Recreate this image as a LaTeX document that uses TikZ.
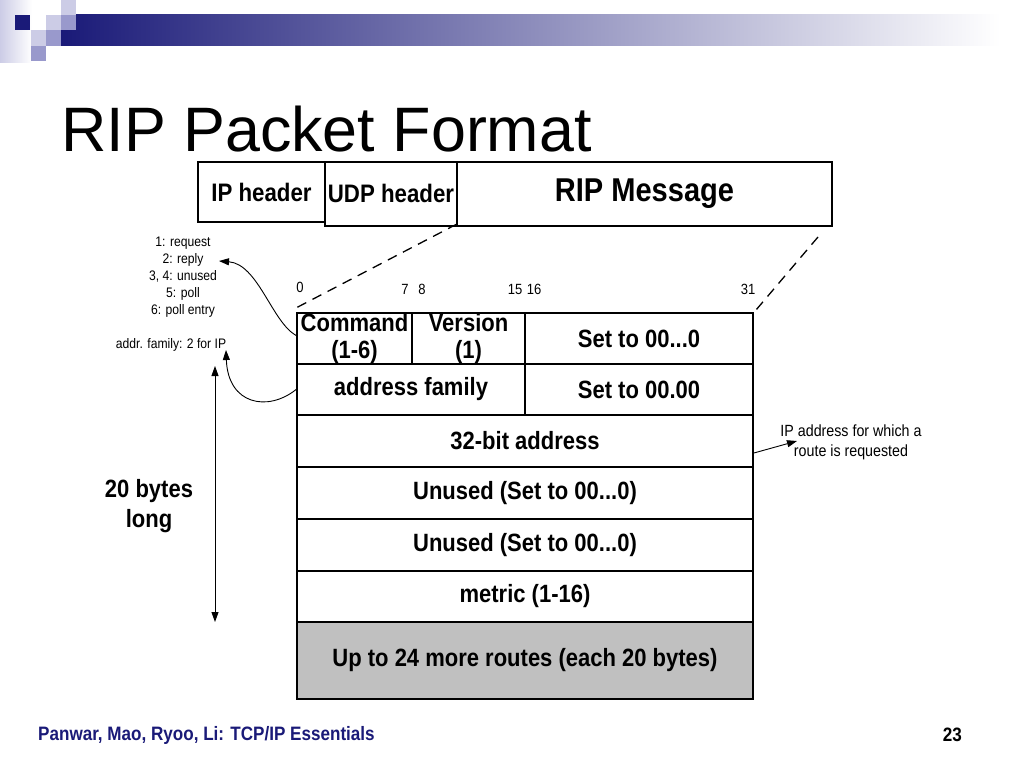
\documentclass[tikz,border=0pt]{standalone}
\usepackage{fontspec}
\setmainfont{Liberation Sans}
\newfontfamily\nar[FakeStretch=0.88]{Liberation Sans}
\usetikzlibrary{arrows.meta}
\definecolor{navy}{HTML}{1A1A78}
\definecolor{lavm}{HTML}{9999CC}
\definecolor{lavl}{HTML}{CCCCE6}
\definecolor{cellgray}{HTML}{C0C0C0}
\begin{document}
\begin{tikzpicture}[x=1pt,y=-1pt,
  cell/.style={draw=black, line width=1.8pt, inner sep=0pt, align=center,
    font=\nar\bfseries\fontsize{25}{29}\selectfont},
  twoline/.style={font=\nar\bfseries\fontsize{25}{26.5}\selectfont},
  hbox/.style={draw=black, line width=1.5pt, fill=white, inner sep=0pt,
    font=\nar\bfseries\fontsize{25.3}{29}\selectfont},
  small/.style={inner sep=0pt, align=center, font=\nar\fontsize{13.8}{17}\selectfont},
  bitnum/.style={inner sep=0pt, font=\nar\fontsize{14.8}{16}\selectfont},
  dashline/.style={dash pattern=on 10pt off 7pt, line width=1.3pt},
  arr/.style={line width=0.9pt, -{Triangle[length=10pt,width=7pt]}},
  dimarr/.style={line width=0.9pt, {Triangle[length=10pt,width=7pt]}-{Triangle[length=10pt,width=7pt]}},
]
\useasboundingbox (0,0) rectangle (1024,768);
\fill[white] (0,0) rectangle (1024,768);

% decoration top-left
\shade[left color=lavl, right color=white] (0,0) rectangle (32,62);
\shade[left color=navy, right color=white] (61,15) rectangle (1000,46);
\fill[navy] (15,15) rectangle (30,30);
\fill[lavl] (46,15) rectangle (61,30);
\fill[lavl] (61,0) rectangle (76,15);
\fill[lavm] (61,15) rectangle (76,30);
\fill[lavl] (31,30) rectangle (46,46);
\fill[lavm] (46,30) rectangle (61,46);
\fill[lavm] (31,46) rectangle (46,61);

% title
\node[anchor=base west, inner sep=0pt, font=\fontsize{62.8}{70}\selectfont] (title) at (61,151) {RIP Packet Format};

% top header boxes
\node[hbox, minimum width=127pt, minimum height=60pt] (iph) at (261.5,192) {IP header};
\node[hbox, minimum width=132pt, minimum height=64pt] (udp) at (391,194) {\raisebox{2pt}{UDP header}};
\node[hbox, minimum width=375pt, minimum height=64pt, font=\nar\bfseries\fontsize{33}{36}\selectfont] (rip) at (644.5,194) {\raisebox{2pt}{RIP Message}};

% dashed expansion lines
\coordinate (dl1) at (457,224);
\coordinate (dl2) at (294,309);
\coordinate (dr1) at (818,237);
\coordinate (dr2) at (756,310);
\draw[dashline] (dl1) -- (dl2);
\draw[dashline] (dr1) -- (dr2);

% bit numbers
\node[bitnum] (b0) at (300,287) {0};
\node[bitnum] (b7) at (405,289) {7};
\node[bitnum] (b8) at (422,289) {8};
\node[bitnum] (b15) at (515,289) {15};
\node[bitnum] (b16) at (534,289) {16};
\node[bitnum] (b31) at (748,289) {31};

% table
\node[cell, twoline, minimum width=115pt, minimum height=51pt] (cmd) at (354.5,338.5) {Command\\(1-6)};
\node[cell, twoline, minimum width=113pt, minimum height=51pt] (ver) at (468.5,338.5) {Version\\(1)};
\node[cell, minimum width=228pt, minimum height=51pt] (set1) at (639,338.5) {Set to 00...0};
\node[cell, minimum width=228pt, minimum height=51pt] (af) at (411,389.5) {address family};
\node[cell, minimum width=228pt, minimum height=51pt] (set2) at (639,389.5) {Set to 00.00};
\node[cell, minimum width=456pt, minimum height=52pt] (addr) at (525,441) {32-bit address};
\node[cell, minimum width=456pt, minimum height=52pt] (un1) at (525,493) {Unused (Set to 00...0)};
\node[cell, minimum width=456pt, minimum height=52pt] (un2) at (525,545) {Unused (Set to 00...0)};
\node[cell, minimum width=456pt, minimum height=51pt] (met) at (525,596.5) {metric (1-16)};
\node[cell, fill=cellgray, minimum width=456pt, minimum height=77pt] (more) at (525,660.5) {Up to 24 more routes (each 20 bytes)};

% left annotations
\node[small] (req) at (183,277) {1: request\\2: reply\\3, 4: unused\\5: poll\\6: poll entry};
\node[small] (afn) at (171,345) {addr. family: 2 for IP};
\coordinate (reqtip) at (219,261);
\coordinate (aftip) at (226,350);
\draw[arr] ([yshift=3pt]cmd.west) .. controls (272,322) and (258,264) .. (reqtip);
\draw[arr] (af.west) .. controls (268,412) and (228,405) .. (aftip);

% 20 bytes dimension
\coordinate (dtop) at (215,366);
\coordinate (dbot) at (215,622);
\draw[dimarr] (dtop) -- (dbot);
\node[inner sep=0pt, align=center, font=\nar\bfseries\fontsize{25}{30}\selectfont] (bytes) at (149,506) {20 bytes\\long};

% right annotation
\node[inner sep=0pt, align=center, font=\nar\fontsize{16.2}{20}\selectfont] (ipn) at (851,442) {IP address for which a\\route is requested};
\coordinate (iptip) at (797,441);
\draw[arr] ([yshift=-12pt]addr.east) -- (iptip);

% footer
\node[anchor=west, inner sep=0pt, text=navy, font=\nar\bfseries\fontsize{19.4}{21}\selectfont] (foot) at (38,735) {Panwar, Mao, Ryoo, Li: TCP/IP Essentials};
\node[anchor=east, inner sep=0pt, font=\nar\bfseries\fontsize{19.4}{21}\selectfont] (page) at (962,735) {23};
\end{tikzpicture}
\end{document}
